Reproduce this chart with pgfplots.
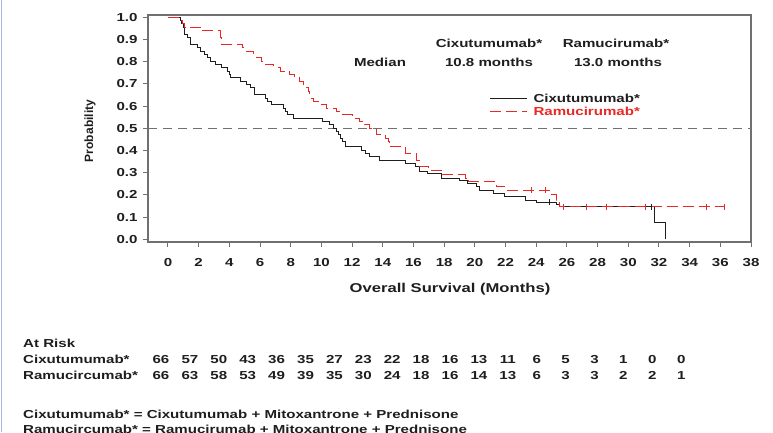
\documentclass[border=0pt]{standalone}
\usepackage{pgfplots}
\pgfplotsset{compat=1.18}
\usepackage{fontspec}
\setmainfont{Liberation Sans}[FakeStretch=1.3]
\newfontfamily\uprightsans{Liberation Sans}

\definecolor{kmred}{RGB}{232,40,36}
\definecolor{framegray}{RGB}{112,112,112}
\definecolor{edgeblue}{RGB}{165,185,222}
\definecolor{inkgray}{RGB}{30,30,30}

\newcommand{\txt}{\bfseries\fontsize{11.6bp}{13.9bp}\selectfont}

\begin{document}
\begin{tikzpicture}[x=1bp,y=1bp,font=\txt,text=inkgray]
\path[use as bounding box] (0,0) rectangle (773,432);
\draw[edgeblue,line width=1.6bp] (1.5,0) -- (1.5,432);

\begin{axis}[
  at={(148bp,190bp)}, anchor=south west,
  scale only axis, width=603bp, height=227bp,
  xmin=-1.3, xmax=38, ymin=-0.012, ymax=1.01,
  xtick={0,2,...,38},
  ytick={0,0.1,0.2,0.3,0.4,0.5,0.6,0.7,0.8,0.9,1.0},
  tick align=outside, tick pos=left, major tick length=5bp,
  axis line style={framegray,line width=1.2bp},
  every tick/.style={framegray,line width=1bp},
  /pgf/number format/assume math mode=true,
  ticklabel style={font=\txt,text=inkgray},
  xticklabel style={yshift=-7.5bp},
  yticklabel style={xshift=-2bp,/pgf/number format/.cd,fixed,fixed zerofill,precision=1},
  legend style={at={(axis cs:20.95,0.604)},anchor=west,draw=none,fill=none,
    inner sep=0pt,row sep=4.5bp,font=\txt,
    nodes={inner sep=0pt,anchor=west,text height=8.4bp,text depth=0bp}},
  legend cell align=left,
  legend image code/.code={\draw[#1] (0bp,0bp) -- (37bp,0bp); \path (43bp,0bp);},
]
% reference line at the median
\addplot[forget plot,framegray,line width=0.9bp,dash pattern=on 9bp off 6bp]
  coordinates {(-1.3,0.5) (38,0.5)};

% Kaplan-Meier estimate, cixutumumab arm
\addplot[const plot,inkgray,line width=0.9bp] coordinates {
 (0,1.000) (0.8,0.985) (0.9,0.970) (1.0,0.955) (1.1,0.924) (1.3,0.909)
 (1.45,0.879) (1.95,0.864) (2.1,0.848) (2.35,0.833) (2.6,0.818) (2.75,0.803)
 (3.1,0.788) (3.5,0.773) (3.9,0.758) (4.0,0.742) (4.05,0.727) (4.7,0.712)
 (5.1,0.697) (5.4,0.682) (5.65,0.652) (6.35,0.636) (6.5,0.621) (6.75,0.606)
 (7.5,0.591) (7.65,0.576) (7.8,0.561) (8.15,0.545) (10.1,0.530) (10.5,0.515)
 (10.8,0.500) (11.0,0.485) (11.1,0.470) (11.25,0.455) (11.4,0.439) (11.6,0.417)
 (12.6,0.402) (12.9,0.386) (13.1,0.371) (13.8,0.356) (15.5,0.342) (16.1,0.327)
 (16.4,0.305) (16.9,0.297) (17.8,0.275) (19.0,0.267) (19.5,0.252) (20.1,0.237)
 (20.3,0.222) (21.2,0.207) (21.9,0.192) (23.3,0.177) (24.0,0.167) (25.3,0.157)
 (25.5,0.147) (31.7,0.074) (32.4,0.000)
};
\addlegendentry{Cixutumumab*}

% Kaplan-Meier estimate, ramucirumab arm
\addplot[const plot,kmred,line width=0.9bp,dash pattern=on 11bp off 5bp] coordinates {
 (0,1.000) (0.85,0.985) (0.95,0.970) (1.1,0.955) (2.1,0.939) (3.4,0.924)
 (3.45,0.909) (3.5,0.879) (4.85,0.864) (4.95,0.848) (5.6,0.833) (5.77,0.818)
 (6.1,0.803) (6.3,0.788) (6.9,0.773) (7.3,0.758) (7.95,0.742) (8.26,0.727)
 (8.6,0.712) (8.8,0.697) (9.0,0.682) (9.15,0.667) (9.25,0.652) (9.35,0.636)
 (9.45,0.621) (10.0,0.606) (10.3,0.591) (11.0,0.576) (11.2,0.561) (12.05,0.545)
 (12.5,0.530) (12.8,0.515) (13.1,0.500) (13.6,0.470) (14.2,0.455) (14.35,0.439)
 (14.45,0.417) (15.5,0.387) (16.2,0.357) (16.4,0.327) (17.0,0.312) (17.8,0.297)
 (17.9,0.290) (19.4,0.275) (19.6,0.260) (21.3,0.252) (21.4,0.237) (22.0,0.222)
 (25.0,0.200) (25.3,0.177) (25.5,0.147) (36.3,0.147)
};
\addlegendentry{\textcolor{kmred}{Ramucirumab*}}

% censored observations
\addplot[forget plot,only marks,mark=|,mark size=3bp,inkgray,mark options={line width=0.9bp}]
  coordinates {(24.85,0.167) (27.3,0.147) (28.6,0.147) (31.5,0.147)};
\addplot[forget plot,only marks,mark=|,mark size=3bp,kmred,mark options={line width=0.9bp}]
  coordinates {(23.7,0.222) (24.6,0.222) (25.8,0.147) (27.3,0.147) (28.6,0.147)
               (31.1,0.147) (35.1,0.147) (36.3,0.147)};
\end{axis}

% axis titles
\node[rotate=90,font=\uprightsans\bfseries\fontsize{12bp}{14bp}\selectfont] at (90,301) {Probability};
\node[font=\bfseries\fontsize{12.8bp}{15bp}\selectfont] at (450,143) {Overall Survival (Months)};

% medians
\node at (380,370) {Median};
\node at (489,389) {Cixutumumab*};
\node at (489,370) {10.8 months};
\node at (616,389) {Ramucirumab*};
\node at (618,370) {13.0 months};

% numbers at risk (placed on common baselines)
\begin{scope}[every node/.style={anchor=base,inner sep=0pt}]
\node[anchor=base west] at (23,85) {At Risk};
\node[anchor=base west] at (23,69) {Cixutumumab*};
\node[anchor=base west] at (23,53) {Ramucircumab*};
\foreach \n [count=\i from 0] in {66,57,50,43,36,35,27,23,22,18,16,13,11,6,5,3,1,0,0}
  \node at (161+28.9*\i,69) {\n};
\foreach \n [count=\i from 0] in {66,63,58,53,49,39,35,30,24,18,16,14,13,6,3,3,2,2,1}
  \node at (161+28.9*\i,53) {\n};

% treatment definitions
\node[anchor=base west] at (23,14) {Cixutumumab* = Cixutumumab + Mitoxantrone + Prednisone};
\node[anchor=base west] at (23,-1) {Ramucircumab* = Ramucirumab + Mitoxantrone + Prednisone};
\end{scope}
\end{tikzpicture}
\end{document}
